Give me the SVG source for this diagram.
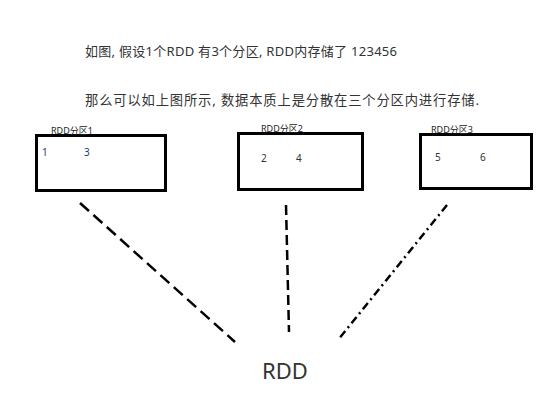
<svg xmlns="http://www.w3.org/2000/svg" width="559" height="401" viewBox="0 0 559 401">
<style>
  .txt { font-family: "Noto Sans", "Noto Sans CJK SC", sans-serif; fill: #333333; }
  .lbl { font-family: "Noto Sans", "Noto Sans CJK SC", sans-serif; font-size: 9px; fill: #222222; }
  .num { font-family: "Noto Sans", "Noto Sans CJK SC", sans-serif; font-size: 10px; fill: #333333; }
  .navy { fill: #1f3a6e; }
  .box { fill: #ffffff; stroke: #000000; stroke-width: 3; }
  .conn { stroke: #000000; stroke-width: 2.5; fill: none; }
</style>
<rect width="559" height="401" fill="#ffffff"/>
<text class="txt" x="85" y="56" font-size="13" textLength="312" lengthAdjust="spacing">如图, 假设1个RDD 有3个分区, RDD内存储了 123456</text>
<text class="txt" x="85" y="105" font-size="13.3" textLength="394" lengthAdjust="spacing">那么可以如上图所示, 数据本质上是分散在三个分区内进行存储.</text>
<g id="partition1">
  <rect class="box" x="36.5" y="135.5" width="129" height="55"/>
  <text class="lbl" x="51" y="134">RDD分区1</text>
  <text class="num navy" x="42" y="156">1</text>
  <text class="num navy" x="84" y="156">3</text>
</g>
<g id="partition2">
  <rect class="box" x="238.5" y="133.5" width="124" height="56"/>
  <text class="lbl" x="261" y="132">RDD分区2</text>
  <text class="num" x="261" y="162">2</text>
  <text class="num" x="296" y="162">4</text>
</g>
<g id="partition3">
  <rect class="box" x="420.5" y="134.5" width="111" height="54"/>
  <text class="lbl" x="431" y="133">RDD分区3</text>
  <text class="num" x="435" y="161">5</text>
  <text class="num" x="480" y="161">6</text>
</g>
<g id="rdd">
  <text class="txt" x="285" y="379" font-size="22" text-anchor="middle">RDD</text>
</g>
<g id="connectors">
  <line class="conn" x1="80" y1="203" x2="235" y2="342" stroke-dasharray="12 6"/>
  <line class="conn" x1="286" y1="205" x2="289" y2="332" stroke-dasharray="10 5"/>
  <line class="conn" x1="447" y1="205" x2="338" y2="340" stroke-dasharray="8 4 2 4"/>
</g>
</svg>
